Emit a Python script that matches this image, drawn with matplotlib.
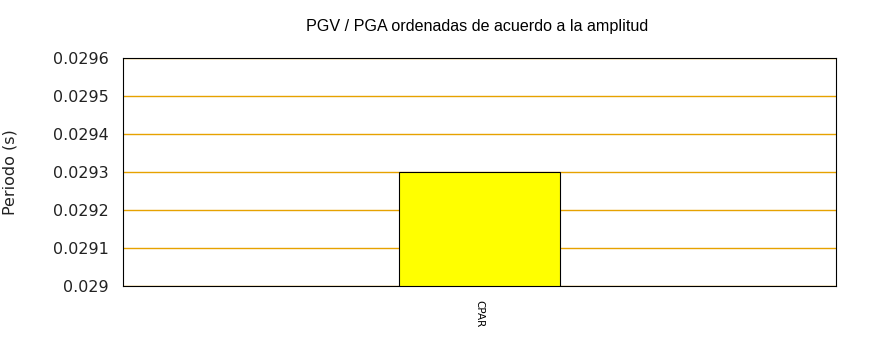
import matplotlib
matplotlib.use("Agg")
import matplotlib.pyplot as plt

# periodo por estacion
estaciones = ["CPAR"]
periodos = [0.0293]

y_ticks = [0.029, 0.0291, 0.0292, 0.0293, 0.0294, 0.0295, 0.0296]
y_labels = ["0.029", "0.0291", "0.0292", "0.0293", "0.0294", "0.0295", "0.0296"]

plt.rcParams['font.family'] = ['Liberation Sans', 'DejaVu Sans']

fig = plt.figure(figsize=(8.7, 3.5), dpi=100)
ax = fig.add_axes([123/870, 1 - 286/350, (836-123)/870, (286-58)/350])

pos = list(range(len(estaciones)))
ax.bar(pos, periodos, width=0.45, bottom=0, color="#ffff00", edgecolor="black",
       linewidth=0.8, zorder=2)
ax.set_xlim(-1, 1)
ax.set_ylim(0.029, 0.0296)

ax.set_yticks(y_ticks)
ax.set_yticklabels(y_labels, fontsize=11.5, color="#222222", fontfamily="DejaVu Sans")
ax.set_xticks(pos)
ax.set_xticklabels(estaciones, rotation=-90, fontsize=7.5, fontfamily="DejaVu Sans")
ax.tick_params(axis="y", length=0, pad=10)
ax.tick_params(axis="x", length=0, pad=10)

ax.yaxis.grid(True, color="#e6a200", linewidth=1, zorder=0)
ax.set_axisbelow(True)
for s in ax.spines.values():
    s.set_linewidth(0.8)

ax.set_ylabel("Periodo (s)", fontsize=11.5, labelpad=26, color="#222222",
              fontfamily="DejaVu Sans")
fig.text(0.548, 1 - 27/350, "PGV / PGA ordenadas de acuerdo a la amplitud",
         ha="center", va="center", fontsize=11.6)

fig.savefig("out.png", dpi=100)
